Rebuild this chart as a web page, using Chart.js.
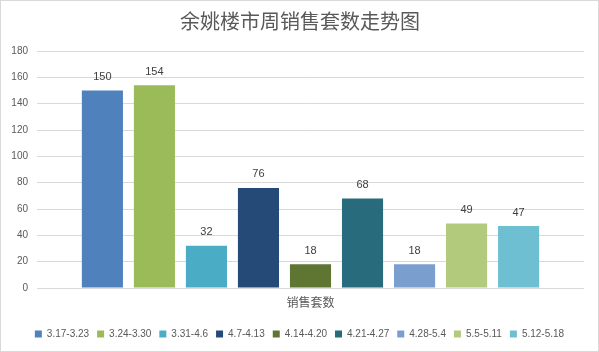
<!DOCTYPE html>
<html>
<head>
<meta charset="utf-8">
<script src="https://cdn.jsdelivr.net/npm/chart.js@4.4.1/dist/chart.umd.min.js"></script>
<style>
html,body{margin:0;padding:0;background:#fff;}
#wrap{width:599px;height:352px;position:relative;}
</style>
</head>
<body>
<div id="wrap"><canvas id="c" width="599" height="352"></canvas></div>
<script>
const chartTitle = '余姚楼市周销售套数走势图';
const axisTitle = '销售套数';
const weeks = ['3.17-3.23','3.24-3.30','3.31-4.6','4.7-4.13','4.14-4.20','4.21-4.27','4.28-5.4','5.5-5.11','5.12-5.18'];
const sales = [150,154,32,76,18,68,18,49,47];
const colors = ['#4f81bd','#9bbb59','#4bacc6','#264a77','#5f7632','#276b7c','#7a9fcf','#b1ca7c','#6fbfd3'];
const yTicks = {min:0, max:180, step:20};

const numFont = '"Liberation Sans", Arial, sans-serif';
const cjkFont = '"Noto Sans CJK SC", sans-serif';

const datasets = weeks.map((w,i)=>({
  label: w,
  data: [sales[i]],
  backgroundColor: colors[i],
  borderWidth: 0,
  categoryPercentage: 0.856,
  barPercentage: 0.79
}));

const deco = {
  id:'deco',
  afterDraw(chart){
    const ctx = chart.ctx;
    ctx.save();
    ctx.fillStyle = '#595959';
    ctx.font = '20px ' + cjkFont;
    ctx.textAlign = 'center';
    ctx.textBaseline = 'middle';
    ctx.fillText(chartTitle, 300, 21);
    ctx.font = '11px ' + numFont;
    ctx.fillStyle = '#404040';
    ctx.textBaseline = 'bottom';
    chart.data.datasets.forEach((ds,i)=>{
      const meta = chart.getDatasetMeta(i);
      meta.data.forEach((bar,j)=>{
        ctx.fillText(String(ds.data[j]), bar.x, bar.y - 8);
      });
    });
    ctx.strokeStyle = '#d9d9d9';
    ctx.lineWidth = 1;
    ctx.strokeRect(0.5,0.5,598,351);
    ctx.restore();
  }
};

new Chart(document.getElementById('c'), {
  type:'bar',
  data:{ labels:[''], datasets },
  options:{
    responsive:false,
    animation:false,
    layout:{ padding:{ top:51, left:0, right:0, bottom:3 } },
    plugins:{
      title:{display:false},
      tooltip:{enabled:false},
      legend:{
        position:'bottom',
        labels:{
          boxWidth:7, boxHeight:7,
          padding:8,
          color:'#595959',
          font:{ family:numFont, size:10 }
        }
      }
    },
    scales:{
      x:{
        grid:{ display:false, drawTicks:false },
        border:{ display:false },
        ticks:{ display:false },
        title:{ display:true, text:axisTitle, color:'#595959', font:{family:cjkFont, size:12}, padding:{top:5, bottom:11} },
        afterFit(scale){ scale.height = 33; }
      },
      y:{
        min:yTicks.min, max:yTicks.max,
        ticks:{ stepSize:yTicks.step, color:'#595959', font:{family:numFont, size:10}, padding:9 },
        grid:{ color:'#d9d9d9', drawTicks:false, lineWidth:1 },
        border:{ display:false },
        afterFit(scale){ scale.width = 37; }
      },
      yRight:{
        position:'right',
        display:true,
        ticks:{ display:false },
        grid:{ display:false, drawTicks:false },
        border:{ display:false },
        afterFit(scale){ scale.width = 15; }
      }
    }
  },
  plugins:[deco]
});
</script>
</body>
</html>
